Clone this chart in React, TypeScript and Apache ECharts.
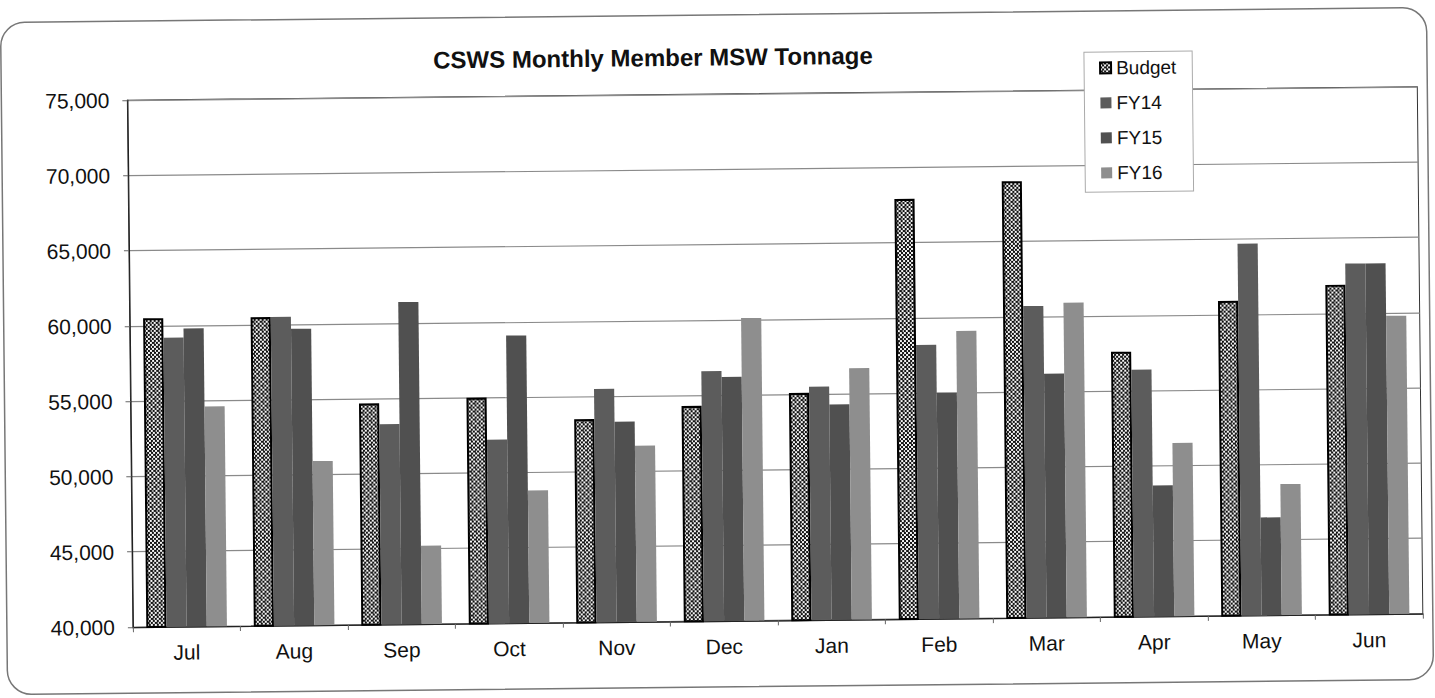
import React, { useEffect, useRef } from "react";
import * as echarts from "echarts";

const months = ["Jul", "Aug", "Sep", "Oct", "Nov", "Dec", "Jan", "Feb", "Mar", "Apr", "May", "Jun"];
const budget = [60500, 60500, 54700, 55000, 53500, 54300, 55100, 67900, 69000, 57600, 60900, 61900];
const fy14 = [59200, 60500, 53300, 52200, 55500, 56600, 55500, 58200, 60700, 56400, 64700, 63300];
const fy15 = [59800, 59700, 61400, 59100, 53300, 56200, 54300, 55000, 56200, 48700, 46500, 63300];
const fy16 = [54600, 50900, 45200, 48800, 51700, 60100, 56700, 59100, 60900, 51500, 48700, 59800];
const yTicks = [40000, 45000, 50000, 55000, 60000, 65000, 70000, 75000];
const titleText = "CSWS Monthly Member MSW Tonnage";

function makePattern() {
  const c = document.createElement("canvas");
  c.width = 8;
  c.height = 8;
  const ctx = c.getContext("2d")!;
  ctx.fillStyle = "#f4f4f4";
  ctx.fillRect(0, 0, 8, 8);
  ctx.fillStyle = "#111111";
  for (let y = 0; y < 8; y += 2) {
    for (let x = 0; x < 8; x += 2) {
      if (((x + y) / 2) % 2 === 0) ctx.fillRect(x, y, 2, 2);
    }
  }
  ctx.fillStyle = "#444444";
  ctx.fillRect(2, 0, 1, 2);
  ctx.fillRect(6, 4, 1, 2);
  return c;
}

export default function App() {
  const ref = useRef<HTMLDivElement>(null);
  useEffect(() => {
    if (!ref.current) return;
    const chart = echarts.init(ref.current, undefined, { renderer: "svg" });
    const pattern = { image: makePattern(), repeat: "repeat", imageWidth: 8, imageHeight: 8 };
    const font = "Liberation Sans";
    chart.setOption({
      animation: false,
      backgroundColor: "#ffffff",
      textStyle: { fontFamily: font },
      graphic: [
        {
          type: "rect",
          shape: { x: 4, y: 15, width: 1426, height: 672, r: 24 },
          style: { fill: "none", stroke: "#777", lineWidth: 1.5 },
          z: -1,
        },
        {
          type: "text",
          x: 656,
          y: 45,
          style: {
            text: titleText,
            font: `bold 24px "${font}"`,
            fill: "#111",
            textAlign: "center",
            textVerticalAlign: "top",
          },
        },
      ],
      legend: {
        orient: "vertical",
        left: 1087,
        top: 56,
        padding: [6, 16, 9, 15],
        itemGap: 15,
        itemWidth: 11,
        itemHeight: 11,
        borderColor: "#aaa",
        borderWidth: 1,
        backgroundColor: "#fff",
        textStyle: { fontSize: 19, color: "#111", lineHeight: 20, fontFamily: font },
        data: [
          { name: "Budget", icon: "rect" },
          { name: "FY14", icon: "rect" },
          { name: "FY15", icon: "rect" },
          { name: "FY16", icon: "rect" },
        ],
      },
      grid: {
        left: 130,
        right: 15,
        top: 94,
        bottom: 77,
        show: true,
        borderColor: "#333",
        borderWidth: 1,
      },
      xAxis: {
        type: "category",
        data: months,
        axisLine: { lineStyle: { color: "#222", width: 1.2 } },
        axisTick: { show: true, length: 5, lineStyle: { color: "#666" } },
        axisLabel: { fontSize: 21, color: "#111", margin: 15, fontFamily: font },
      },
      yAxis: {
        type: "value",
        min: yTicks[0],
        max: yTicks[yTicks.length - 1],
        interval: 5000,
        axisLine: { show: true, lineStyle: { color: "#222", width: 1.2 } },
        axisTick: { show: true, length: 5, lineStyle: { color: "#666" } },
        axisLabel: {
          fontSize: 21,
          color: "#111",
          margin: 18,
          fontFamily: font,
          formatter: (v: number) => v.toLocaleString("en-US"),
        },
        splitLine: { show: true, lineStyle: { color: "#8a8a8a", width: 1.2 } },
      },
      series: [
        {
          name: "Budget",
          type: "bar",
          data: budget,
          barGap: "0%",
          barCategoryGap: "25%",
          itemStyle: { color: pattern, borderColor: "#000", borderWidth: 2 },
        },
        {
          name: "FY14",
          type: "bar",
          data: fy14,
          barGap: "0%",
          barCategoryGap: "25%",
          itemStyle: { color: "#5c5c5c" },
        },
        {
          name: "FY15",
          type: "bar",
          data: fy15,
          barGap: "0%",
          barCategoryGap: "25%",
          itemStyle: { color: "#505050" },
        },
        {
          name: "FY16",
          type: "bar",
          data: fy16,
          barGap: "0%",
          barCategoryGap: "25%",
          itemStyle: { color: "#8e8e8e" },
        },
      ],
    });
    return () => chart.dispose();
  }, []);
  return (
    <div
      style={{
        position: "fixed",
        left: 0,
        top: 0,
        width: 1435,
        height: 698,
        background: "#fff",
      }}
    >
      <div
        ref={ref}
        style={{ width: 1435, height: 698, transform: "rotate(-0.6deg)", transformOrigin: "50% 50%" }}
      />
    </div>
  );
}
